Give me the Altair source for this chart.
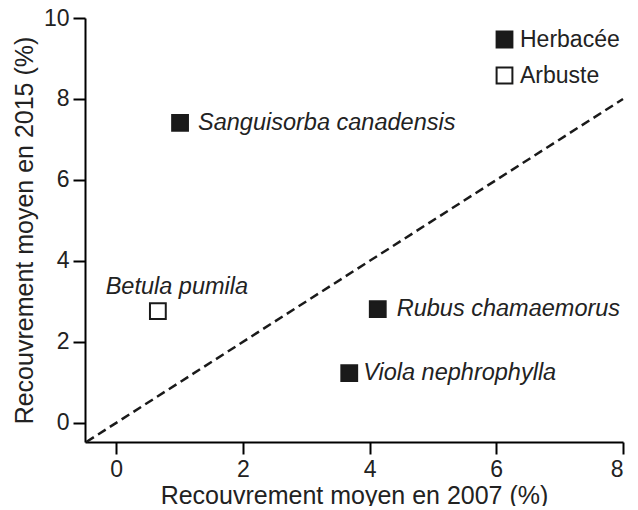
import altair as alt
import pandas as pd

species = ["Sanguisorba canadensis", "Betula pumila", "Rubus chamaemorus", "Viola nephrophylla"]
cover_2007 = [1.01, 0.66, 4.13, 3.68]
cover_2015 = [7.41, 2.76, 2.81, 1.23]
growth_form = ["Herbacée", "Arbuste", "Herbacée", "Herbacée"]

x_ticks = [0, 2, 4, 6, 8]
y_ticks = [0, 2, 4, 6, 8, 10]
x_domain = [-0.49, 8]
y_domain = [-0.47, 10]
identity_line = [-0.47, 8]

df = pd.DataFrame({"species": species, "x": cover_2007, "y": cover_2015, "type": growth_form})
line_df = pd.DataFrame({"x": identity_line, "y": identity_line})

FONT = "Liberation Sans"
TXT = "#222222"
INK = "#1a1a1a"

xs = alt.Scale(domain=x_domain, nice=False, zero=False)
ys = alt.Scale(domain=y_domain, nice=False, zero=False)

x_axis = alt.Axis(values=x_ticks, title="Recouvrement moyen en 2007 (%)", format="d")
y_axis = alt.Axis(values=y_ticks, title="Recouvrement moyen en 2015 (%)", format="d")

line = alt.Chart(line_df).mark_line(color=INK, strokeWidth=2.5, strokeDash=[9, 5]).encode(
    x=alt.X("x:Q", scale=xs, axis=x_axis),
    y=alt.Y("y:Q", scale=ys, axis=y_axis),
)

points = alt.Chart(df).mark_point(shape="square", filled=True, size=250, strokeWidth=2, stroke=INK, opacity=1).encode(
    x=alt.X("x:Q", scale=xs),
    y=alt.Y("y:Q", scale=ys),
    fill=alt.Fill(
        "type:N",
        scale=alt.Scale(domain=["Herbacée", "Arbuste"], range=[INK, "white"]),
        legend=alt.Legend(
            title=None,
            orient="none",
            legendX=408,
            legendY=10,
            padding=0,
            symbolType="square",
            symbolSize=250,
            symbolStrokeColor=INK,
            symbolStrokeWidth=2,
            labelFont=FONT,
            labelFontSize=23,
            labelColor=TXT,
            labelOffset=4,
            rowPadding=11,
        ),
    ),
)

def label(name, dx, dy, align):
    return alt.Chart(df).transform_filter(alt.datum.species == name).mark_text(
        align=align, baseline="middle", dx=dx, dy=dy, font=FONT, fontSize=23.5,
        fontStyle="italic", color=TXT,
    ).encode(x=alt.X("x:Q", scale=xs), y=alt.Y("y:Q", scale=ys), text="species:N")

labels = [
    label("Sanguisorba canadensis", 18, 0, "left"),
    label("Betula pumila", 19, -24, "center"),
    label("Rubus chamaemorus", 19, 0, "left"),
    label("Viola nephrophylla", 14, 0, "left"),
]

chart = alt.layer(line, points, *labels).properties(
    width=538,
    height=424,
    autosize=alt.AutoSizeParams(type="none"),
    padding={"left": 77, "top": 10, "right": 7, "bottom": 64},
).configure_view(stroke=None).configure_axis(
    grid=False,
    domainColor="black",
    domainWidth=2,
    tickColor="black",
    tickWidth=2,
    tickSize=12,
    labelFont=FONT,
    labelFontSize=23,
    labelColor=TXT,
    labelPadding=4,
    titleFont=FONT,
    titleFontSize=25,
    titleFontWeight="normal",
    titleColor=TXT,
).configure_axisY(titlePadding=6).configure_axisX(titlePadding=2)

chart.save("out.html", embed_options={"renderer": "svg", "actions": False})
